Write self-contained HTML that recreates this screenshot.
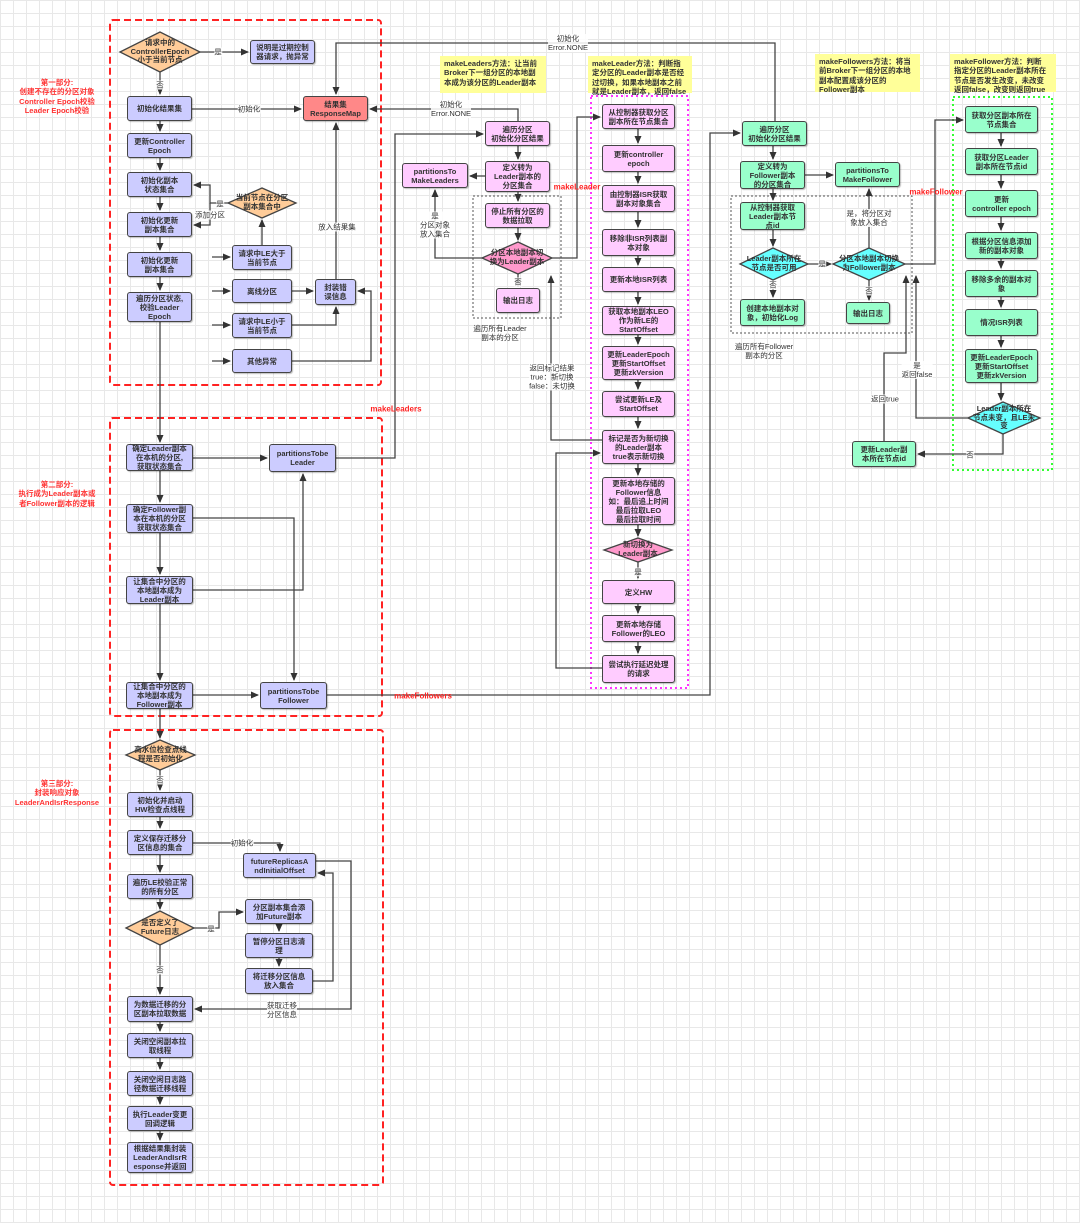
<!DOCTYPE html>
<html><head><meta charset="utf-8"><style>
body{margin:0}
#c{position:relative;width:1080px;height:1223px;overflow:hidden;background-color:#fff;
background-image:linear-gradient(#e8e8e8 1px,transparent 1px),linear-gradient(90deg,#e8e8e8 1px,transparent 1px);background-size:13px 13px;
font-family:"Liberation Sans","Noto Sans CJK SC",sans-serif;color:#222}
.b{position:absolute;display:flex;align-items:center;justify-content:center;text-align:center;font-size:7.5px;line-height:1.2;border:1.4px solid #444;border-radius:3px;box-sizing:border-box;font-weight:bold;color:#333;box-shadow:1px 1px 1px rgba(0,0,0,.25)}
.p{background:#ccccff}.k{background:#ffccff}.g{background:#99ffcc}.r{background:#f88}
.t{position:absolute;font-size:7.5px;line-height:1.2;text-align:center;transform:translate(-50%,-50%);white-space:nowrap;background:rgba(255,255,255,.85);color:#333}
.d{position:absolute;font-size:7.5px;line-height:1.15;text-align:center;display:flex;align-items:center;justify-content:center;font-weight:bold;color:#333}
.red{position:absolute;color:#f33;font-size:7.5px;font-weight:bold;text-align:center;line-height:1.25;transform:translateX(-50%);white-space:nowrap}
.n{position:absolute;background:#ffff99;font-size:7.5px;font-weight:bold;line-height:1.25;padding:3px 4px;box-sizing:border-box;color:#333}
.rl{position:absolute;color:#f22;font-size:8px;font-weight:bold;transform:translate(-50%,-50%);white-space:nowrap}
</style></head><body><div id="c">
<svg width="1080" height="1223" style="position:absolute;left:0;top:0">
<defs><marker id="a" markerWidth="8" markerHeight="8" refX="7" refY="4" orient="auto" markerUnits="userSpaceOnUse"><path d="M0,0.5 L8,4 L0,7.5 z" fill="#333"/></marker></defs>
<g fill="none" stroke="#f22" stroke-width="2" stroke-dasharray="7,4">
<rect x="110" y="20" width="271" height="365" rx="3"/>
<rect x="110" y="418" width="272" height="298" rx="3"/>
<rect x="110" y="730" width="273" height="455" rx="3"/>
</g>
<rect x="473" y="196" width="88" height="122" fill="none" stroke="#555" stroke-dasharray="2,2"/>
<rect x="731" y="196" width="181" height="137" fill="none" stroke="#555" stroke-dasharray="2,2"/>
<rect x="591" y="96" width="97" height="592" fill="none" stroke="#f3f" stroke-width="2" stroke-dasharray="2,3"/>
<rect x="953" y="97" width="99" height="373" fill="none" stroke="#3f3" stroke-width="2" stroke-dasharray="2,3"/>
<g stroke="#444" stroke-width="1.3">
<polygon points="120,52 160,32 200,52 160,72" fill="#ffcc99"/>
<polygon points="228,203 262,188 296,203 262,218" fill="#ffcc99"/>
<polygon points="126,755 160,740 195,755 160,770" fill="#ffcc99"/>
<polygon points="126,928 160,911 194,928 160,945" fill="#ffcc99"/>
<polygon points="482,258 518,242 552,258 518,274" fill="#ff99cc"/>
<polygon points="604,550 638,538 672,550 638,562" fill="#ff99cc"/>
<polygon points="740,264 773,248 808,264 773,280" fill="#66ffff"/>
<polygon points="833,264 869,248 905,264 869,280" fill="#66ffff"/>
<polygon points="968,418 1003,402 1040,418 1003,434" fill="#66ffff"/>
</g>
<g fill="none" stroke="#444" stroke-width="1.3" marker-end="url(#a)">
<polyline points="200,52 248,52"/><polyline points="160,72 160,94"/><polyline points="192,109 301,109"/>
<polyline points="160,121 160,131"/><polyline points="160,158 160,170"/><polyline points="160,197 160,210"/><polyline points="160,237 160,250"/><polyline points="160,277 160,290"/>
<polyline points="228,203 210,203 210,185 194,185"/><polyline points="210,203 210,225 194,225"/>
<polyline points="262,245 262,220"/>
<polyline points="212,291 230,291"/><polyline points="212,257 230,257"/><polyline points="212,325 230,325"/><polyline points="212,361 230,361"/>
<polyline points="292,291 313,291"/><polyline points="292,325 336,325 336,307"/><polyline points="292,361 371,361 371,291 358,291"/>
<polyline points="336,279 336,123"/><polyline points="160,322 160,442"/>
<polyline points="193,458 267,458"/><polyline points="160,471 160,502"/><polyline points="160,533 160,574"/><polyline points="160,604 160,680"/>
<polyline points="193,518 294,518 294,680"/><polyline points="193,590 303,590 303,474"/><polyline points="193,695 258,695"/><polyline points="160,709 160,738"/>
<polyline points="160,770 160,790"/><polyline points="160,817 160,828"/><polyline points="160,855 160,872"/><polyline points="160,899 160,909"/><polyline points="160,945 160,994"/><polyline points="160,1022 160,1031"/><polyline points="160,1058 160,1069"/><polyline points="160,1096 160,1104"/><polyline points="160,1131 160,1140"/>
<polyline points="193,843 280,843 280,851"/><polyline points="194,928 219,928 219,912 243,912"/>
<polyline points="279,924 279,931"/><polyline points="279,958 279,966"/>
<polyline points="313,981 333,981 333,873 318,873"/><polyline points="316,861 351,861 351,1009 195,1009"/>
<polyline points="775,121 775,43 336,43 336,94"/><polyline points="518,121 518,109 370,109"/>
<polyline points="336,458 395,458 395,134 483,134"/>
<polyline points="518,146 518,159"/><polyline points="485,176 470,176"/><polyline points="518,192 518,201"/><polyline points="518,228 518,240"/><polyline points="518,274 518,286"/>
<polyline points="482,258 435,258 435,190"/><polyline points="552,258 577,258 577,117 600,117"/>
<polyline points="638,129 638,143"/><polyline points="638,172 638,183"/><polyline points="638,212 638,227"/><polyline points="638,256 638,265"/><polyline points="638,292 638,304"/><polyline points="638,335 638,344"/><polyline points="638,380 638,389"/><polyline points="638,417 638,428"/><polyline points="638,464 638,475"/><polyline points="638,525 638,536"/><polyline points="638,562 638,578"/><polyline points="638,604 638,613"/><polyline points="638,642 638,653"/>
<polyline points="602,440 551,440 551,276"/><polyline points="602,668 556,668 556,453 600,453"/>
<polyline points="327,695 710,695 710,133 740,133"/>
<polyline points="773,146 773,159"/><polyline points="805,175 833,175"/><polyline points="773,189 773,200"/><polyline points="773,230 773,246"/><polyline points="808,264 831,264"/><polyline points="773,280 773,297"/><polyline points="869,280 869,300"/><polyline points="869,248 869,189"/>
<polyline points="905,264 935,264 935,120 963,120"/>
<polyline points="1001,133 1001,146"/><polyline points="1001,175 1001,188"/><polyline points="1001,217 1001,230"/><polyline points="1001,259 1001,268"/><polyline points="1001,297 1001,307"/><polyline points="1001,336 1001,347"/><polyline points="1001,383 1001,400"/>
<polyline points="1003,434 1003,454 918,454"/><polyline points="968,418 916,418 916,276"/><polyline points="884,441 884,353 906,353 906,276"/>
</g></svg>

<div class="red" style="left:57px;top:78px">第一部分:<br>创建不存在的分区对象<br>Controller Epoch校验<br>Leader Epoch校验</div>
<div class="red" style="left:57px;top:480px">第二部分:<br>执行成为Leader副本或<br>者Follower副本的逻辑</div>
<div class="red" style="left:57px;top:779px">第三部分:<br>封装响应对象<br>LeaderAndIsrResponse</div>

<div class="d" style="left:120px;top:32px;width:80px;height:40px">请求中的<br>ControllerEpoch<br>小于当前节点</div>
<div class="b p" style="left:250px;top:40px;width:65px;height:24px">说明是过期控制<br>器请求，抛异常</div>
<div class="b p" style="left:127px;top:96px;width:65px;height:25px">初始化结果集</div>
<div class="b r" style="left:303px;top:96px;width:65px;height:25px">结果集<br>ResponseMap</div>
<div class="b p" style="left:127px;top:133px;width:65px;height:25px">更新Controller<br>Epoch</div>
<div class="b p" style="left:127px;top:172px;width:65px;height:25px">初始化副本<br>状态集合</div>
<div class="d" style="left:228px;top:188px;width:68px;height:30px">当前节点在分区<br>副本集合中</div>
<div class="b p" style="left:127px;top:212px;width:65px;height:25px">初始化更新<br>副本集合</div>
<div class="b p" style="left:127px;top:252px;width:65px;height:25px">初始化更新<br>副本集合</div>
<div class="b p" style="left:127px;top:292px;width:65px;height:30px">遍历分区状态,<br>校验Leader<br>Epoch</div>
<div class="b p" style="left:232px;top:245px;width:60px;height:25px">请求中LE大于<br>当前节点</div>
<div class="b p" style="left:232px;top:279px;width:60px;height:24px">离线分区</div>
<div class="b p" style="left:232px;top:313px;width:60px;height:25px">请求中LE小于<br>当前节点</div>
<div class="b p" style="left:232px;top:349px;width:60px;height:24px">其他异常</div>
<div class="b p" style="left:315px;top:279px;width:41px;height:26px">封装错<br>误信息</div>
<div class="t" style="left:218px;top:52px">是</div><div class="t" style="left:160px;top:85px">否</div>
<div class="t" style="left:249px;top:109px">初始化</div><div class="t" style="left:220px;top:204px">是</div>
<div class="t" style="left:210px;top:215px">添加分区</div><div class="t" style="left:337px;top:227px">放入结果集</div>

<div class="b p" style="left:126px;top:444px;width:67px;height:27px">确定Leader副本<br>在本机的分区,<br>获取状态集合</div>
<div class="b p" style="left:269px;top:444px;width:67px;height:28px">partitionsTobe<br>Leader</div>
<div class="b p" style="left:126px;top:504px;width:67px;height:29px">确定Follower副<br>本在本机的分区<br>获取状态集合</div>
<div class="b p" style="left:126px;top:576px;width:67px;height:28px">让集合中分区的<br>本地副本成为<br>Leader副本</div>
<div class="b p" style="left:126px;top:682px;width:67px;height:27px">让集合中分区的<br>本地副本成为<br>Follower副本</div>
<div class="b p" style="left:260px;top:682px;width:67px;height:27px">partitionsTobe<br>Follower</div>

<div class="d" style="left:126px;top:740px;width:69px;height:30px">高水位检查点线<br>程是否初始化</div>
<div class="t" style="left:160px;top:780px">否</div>
<div class="b p" style="left:127px;top:792px;width:66px;height:25px">初始化并启动<br>HW检查点线程</div>
<div class="b p" style="left:127px;top:830px;width:66px;height:25px">定义保存迁移分<br>区信息的集合</div>
<div class="b p" style="left:243px;top:853px;width:73px;height:25px">futureReplicasA<br>ndInitialOffset</div>
<div class="b p" style="left:127px;top:874px;width:66px;height:25px">遍历LE校验正常<br>的所有分区</div>
<div class="d" style="left:126px;top:911px;width:68px;height:34px">是否定义了<br>Future日志</div>
<div class="b p" style="left:245px;top:899px;width:68px;height:25px">分区副本集合添<br>加Future副本</div>
<div class="b p" style="left:245px;top:933px;width:68px;height:25px">暂停分区日志清<br>理</div>
<div class="b p" style="left:245px;top:968px;width:68px;height:26px">将迁移分区信息<br>放入集合</div>
<div class="b p" style="left:127px;top:996px;width:66px;height:26px">为数据迁移的分<br>区副本拉取数据</div>
<div class="b p" style="left:127px;top:1033px;width:66px;height:25px">关闭空闲副本拉<br>取线程</div>
<div class="b p" style="left:127px;top:1071px;width:66px;height:25px">关闭空闲日志路<br>径数据迁移线程</div>
<div class="b p" style="left:127px;top:1106px;width:66px;height:25px">执行Leader变更<br>回调逻辑</div>
<div class="b p" style="left:127px;top:1142px;width:66px;height:31px">根据结果集封装<br>LeaderAndIsrR<br>esponse并返回</div>
<div class="t" style="left:242px;top:843px">初始化</div><div class="t" style="left:211px;top:929px">是</div>
<div class="t" style="left:160px;top:970px">否</div><div class="t" style="left:282px;top:1010px">获取迁移<br>分区信息</div>

<div class="t" style="left:568px;top:43px">初始化<br>Error.NONE</div>
<div class="t" style="left:451px;top:109px">初始化<br>Error.NONE</div>
<div class="rl" style="left:396px;top:409px">makeLeaders</div>
<div class="rl" style="left:423px;top:696px">makeFollowers</div>
<div class="rl" style="left:577px;top:187px">makeLeader</div>
<div class="rl" style="left:936px;top:192px">makeFollower</div>

<div class="n" style="left:440px;top:56px;width:106px;height:37px">makeLeaders方法：让当前<br>Broker下一组分区的本地副<br>本成为该分区的Leader副本</div>
<div class="n" style="left:588px;top:56px;width:104px;height:37px">makeLeader方法：判断指<br>定分区的Leader副本是否经<br>过切换，如果本地副本之前<br>就是Leader副本，返回false</div>
<div class="n" style="left:815px;top:54px;width:105px;height:38px">makeFollowers方法：将当<br>前Broker下一组分区的本地<br>副本配置成该分区的<br>Follower副本</div>
<div class="n" style="left:950px;top:54px;width:106px;height:38px">makeFollower方法：判断<br>指定分区的Leader副本所在<br>节点是否发生改变，未改变<br>返回false，改变则返回true</div>

<div class="b k" style="left:485px;top:121px;width:65px;height:25px">遍历分区<br>初始化分区结果</div>
<div class="b k" style="left:485px;top:161px;width:65px;height:31px">定义转为<br>Leader副本的<br>分区集合</div>
<div class="b k" style="left:402px;top:163px;width:66px;height:25px">partitionsTo<br>MakeLeaders</div>
<div class="b k" style="left:485px;top:203px;width:65px;height:25px">停止所有分区的<br>数据拉取</div>
<div class="d" style="left:482px;top:242px;width:70px;height:32px">分区本地副本切<br>换为Leader副本</div>
<div class="t" style="left:518px;top:282px">否</div>
<div class="b k" style="left:496px;top:288px;width:44px;height:25px">输出日志</div>
<div class="t" style="left:500px;top:333px;background:none">遍历所有Leader<br>副本的分区</div>
<div class="t" style="left:435px;top:225px">是<br>分区对象<br>放入集合</div>
<div class="t" style="left:552px;top:377px">返回标记结果<br>true：新切换<br>false：未切换</div>

<div class="b k" style="left:602px;top:104px;width:73px;height:25px">从控制器获取分区<br>副本所在节点集合</div>
<div class="b k" style="left:602px;top:145px;width:73px;height:27px">更新controller<br>epoch</div>
<div class="b k" style="left:602px;top:185px;width:73px;height:27px">由控制器ISR获取<br>副本对象集合</div>
<div class="b k" style="left:602px;top:229px;width:73px;height:27px">移除非ISR列表副<br>本对象</div>
<div class="b k" style="left:602px;top:267px;width:73px;height:25px">更新本地ISR列表</div>
<div class="b k" style="left:602px;top:306px;width:73px;height:29px">获取本地副本LEO<br>作为新LE的<br>StartOffset</div>
<div class="b k" style="left:602px;top:346px;width:73px;height:34px">更新LeaderEpoch<br>更新StartOffset<br>更新zkVersion</div>
<div class="b k" style="left:602px;top:391px;width:73px;height:26px">尝试更新LE及<br>StartOffset</div>
<div class="b k" style="left:602px;top:430px;width:73px;height:34px">标记是否为新切换<br>的Leader副本<br>true表示新切换</div>
<div class="b k" style="left:602px;top:477px;width:73px;height:48px">更新本地存储的<br>Follower信息<br>如：最后追上时间<br>最后拉取LEO<br>最后拉取时间</div>
<div class="d" style="left:604px;top:538px;width:68px;height:24px">新切换为<br>Leader副本</div>
<div class="t" style="left:638px;top:572px">是</div>
<div class="b k" style="left:602px;top:580px;width:73px;height:24px">定义HW</div>
<div class="b k" style="left:602px;top:615px;width:73px;height:27px">更新本地存储<br>Follower的LEO</div>
<div class="b k" style="left:602px;top:655px;width:73px;height:28px">尝试执行延迟处理<br>的请求</div>

<div class="b g" style="left:742px;top:121px;width:65px;height:25px">遍历分区<br>初始化分区结果</div>
<div class="b g" style="left:740px;top:161px;width:65px;height:28px">定义转为<br>Follower副本<br>的分区集合</div>
<div class="b g" style="left:835px;top:162px;width:65px;height:25px">partitionsTo<br>MakeFollower</div>
<div class="b g" style="left:740px;top:202px;width:65px;height:28px">从控制器获取<br>Leader副本节<br>点id</div>
<div class="d" style="left:740px;top:248px;width:68px;height:32px">Leader副本所在<br>节点是否可用</div>
<div class="d" style="left:833px;top:248px;width:72px;height:32px">分区本地副本切换<br>为Follower副本</div>
<div class="t" style="left:822px;top:264px">是</div>
<div class="t" style="left:869px;top:218px">是，将分区对<br>象放入集合</div>
<div class="t" style="left:773px;top:285px">否</div><div class="t" style="left:869px;top:291px">否</div>
<div class="b g" style="left:740px;top:299px;width:65px;height:27px">创建本地副本对<br>象，初始化Log</div>
<div class="b g" style="left:846px;top:302px;width:44px;height:22px">输出日志</div>
<div class="t" style="left:764px;top:351px;background:none">遍历所有Follower<br>副本的分区</div>

<div class="b g" style="left:965px;top:106px;width:73px;height:27px">获取分区副本所在<br>节点集合</div>
<div class="b g" style="left:965px;top:148px;width:73px;height:27px">获取分区Leader<br>副本所在节点id</div>
<div class="b g" style="left:965px;top:190px;width:73px;height:27px">更新<br>controller epoch</div>
<div class="b g" style="left:965px;top:232px;width:73px;height:27px">根据分区信息添加<br>新的副本对象</div>
<div class="b g" style="left:965px;top:270px;width:73px;height:27px">移除多余的副本对<br>象</div>
<div class="b g" style="left:965px;top:309px;width:73px;height:27px">情况ISR列表</div>
<div class="b g" style="left:965px;top:349px;width:73px;height:34px">更新LeaderEpoch<br>更新StartOffset<br>更新zkVersion</div>
<div class="d" style="left:968px;top:402px;width:72px;height:32px">Leader副本所在<br>节点未变，且LE未<br>变</div>
<div class="t" style="left:970px;top:455px">否</div>
<div class="b g" style="left:852px;top:441px;width:64px;height:26px">更新Leader副<br>本所在节点id</div>
<div class="t" style="left:917px;top:370px">是<br>返回false</div>
<div class="t" style="left:885px;top:399px">返回true</div>
</div></body></html>
